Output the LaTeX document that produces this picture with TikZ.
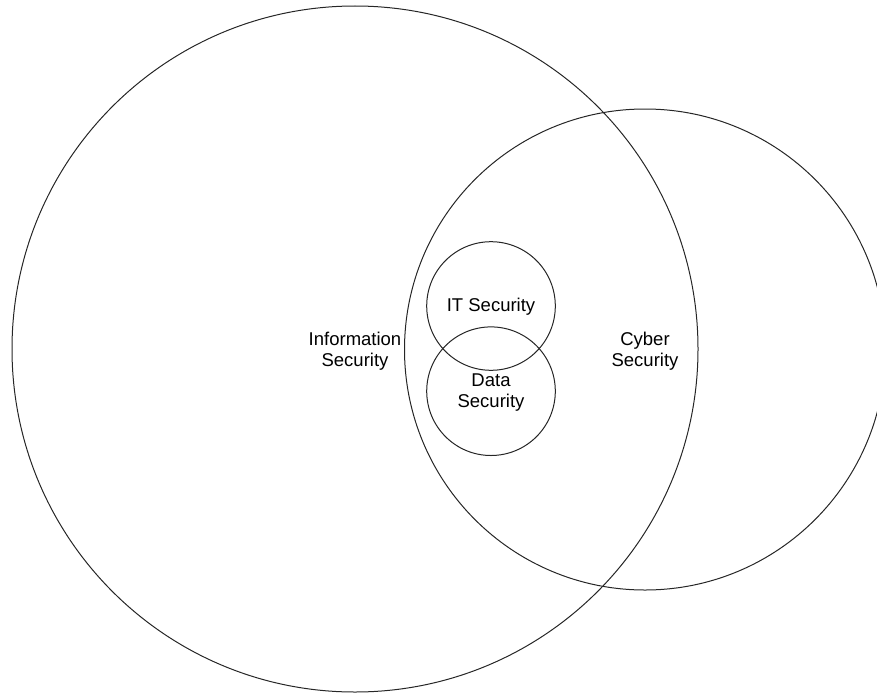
\documentclass[tikz,border=0pt]{standalone}
\usepackage{fontspec}
\setmainfont{Liberation Sans}
\begin{document}
\begin{tikzpicture}[x=1pt,y=-1pt,
  ring/.style={draw=black!85,line width=1pt},
  lbl/.style={align=center,font=\fontsize{18.5}{21}\selectfont,inner sep=0pt}]
\useasboundingbox (0,0) rectangle (877,693);
\begin{scope}
\clip (0,0) rectangle (877,693);
% outer circles
\draw[ring] (355,349) circle[radius=343];
\draw[ring] (645,349.5) circle[radius=240.5];
% inner circles
\draw[ring] (491,306) circle[radius=64.3];
\draw[ring] (491,391.2) circle[radius=64.3];
\end{scope}
% labels
\node[lbl] (info) at (355,351) {Information\\Security};
\node[lbl] (cyber) at (645,351) {Cyber\\Security};
\node[lbl] (it) at (491,307) {IT Security};
\node[lbl] (data) at (491,393) {Data\\Security};
\end{tikzpicture}
\end{document}
